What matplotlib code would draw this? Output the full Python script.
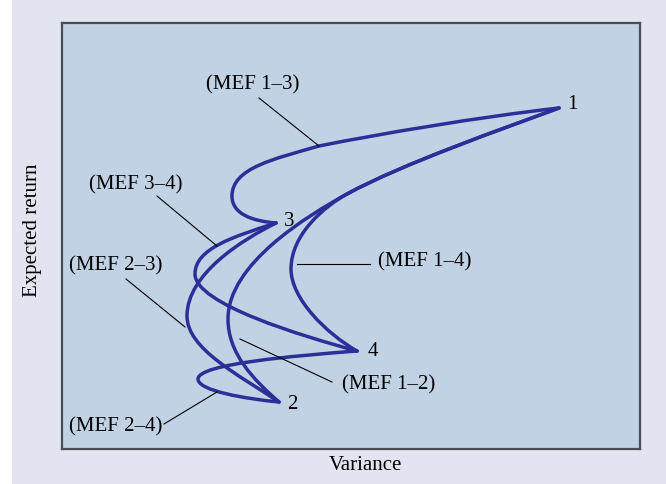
import matplotlib.pyplot as plt
from matplotlib.path import Path
from matplotlib.patches import PathPatch

# corner portfolios (variance, expected return), arbitrary units
corners = ['1', '2', '3', '4']
corner_x = [497, 217, 214, 295]
corner_y = [341, 47, 226, 98]

# frontier segments as cubic bezier chains: start, then (c1, c2, end) triples
mef_13 = [(497, 341), (417, 332), (317, 315), (257, 303),
          (212, 290), (170, 281), (170, 253),
          (170, 235), (190, 228), (214, 226)]
mef_14 = [(497, 341), (440, 320), (340, 285), (285, 255),
          (263, 243), (229, 215), (229, 180),
          (229, 150), (265, 115), (295, 98)]
mef_12 = [(497, 341), (440, 320), (340, 285), (285, 255),
          (245, 233), (166, 185), (166, 130),
          (166, 95), (192, 69), (217, 47)]
mef_23 = [(214, 226), (180, 209), (125, 175), (125, 133),
          (125, 100), (177, 74), (217, 47)]
mef_34 = [(214, 226), (170, 212), (133, 200), (133, 175),
          (133, 145), (240, 113), (295, 98)]
mef_24 = [(295, 98), (230, 93), (136, 85), (136, 70),
          (136, 58), (185, 50), (217, 47)]

# label text, text position, leader line start/end
labels = ['(MEF 1\u20133)', '(MEF 3\u20134)', '(MEF 2\u20133)',
          '(MEF 1\u20134)', '(MEF 1\u20132)', '(MEF 2\u20134)']
label_x = [191, 74, 54, 363, 327, 54]
label_y = [365, 265, 184, 188, 65, 23]
leader_x0 = [197, 95, 64, 308, 270, 102]
leader_y0 = [351, 253, 170, 185, 67, 25]
leader_x1 = [257, 155, 123, 235, 178, 155]
leader_y1 = [303, 203, 122, 185, 110, 57]

blue = '#2c2f98'
serif = ['Liberation Serif', 'DejaVu Serif']

fig = plt.figure(figsize=(6.66, 4.85), dpi=100)
fig.patch.set_facecolor('white')
bg = plt.Rectangle((12 / 666, 0), 654 / 666, 1, transform=fig.transFigure,
                   facecolor='#e2e5f1', edgecolor='none', zorder=-10)
fig.patches.append(bg)

ax = fig.add_axes([62 / 666, 1 - 450 / 485, 578 / 666, 426 / 485])
ax.set_facecolor('#c2d2e5')
ax.set_xlim(0, 578)
ax.set_ylim(0, 426)
ax.set_xticks([])
ax.set_yticks([])
for s in ax.spines.values():
    s.set_color('#4a4b55')
    s.set_linewidth(1.6)

for pts in [mef_13, mef_14, mef_12, mef_23, mef_34, mef_24]:
    codes = [Path.MOVETO] + [Path.CURVE4] * (len(pts) - 1)
    ax.add_patch(PathPatch(Path(pts, codes), facecolor='none', edgecolor=blue,
                           lw=2.5, capstyle='round', joinstyle='round'))

label_off = [(6, 3), (6, -1), (6, 2), (8, 0)]
for name, x, y, off in zip(corners, corner_x, corner_y, label_off):
    ax.annotate(name, (x, y), xytext=off, textcoords='offset points',
                fontsize=15, family=serif, ha='left', va='center')

for t, x, y, x0, y0, x1, y1 in zip(labels, label_x, label_y, leader_x0,
                                   leader_y0, leader_x1, leader_y1):
    ax.text(x, y, t, fontsize=15, family=serif, ha='center', va='center')
    ax.plot([x0, x1], [y0, y1], color='black', lw=0.8)

fig.text(365 / 666, 1 - 466 / 485, 'Variance', fontsize=15, family=serif,
         ha='center', va='center')
fig.text(32 / 666, 1 - 230 / 485, 'Expected return', fontsize=15, family=serif,
         ha='center', va='center', rotation=90)

fig.savefig('out.png', dpi=100)
